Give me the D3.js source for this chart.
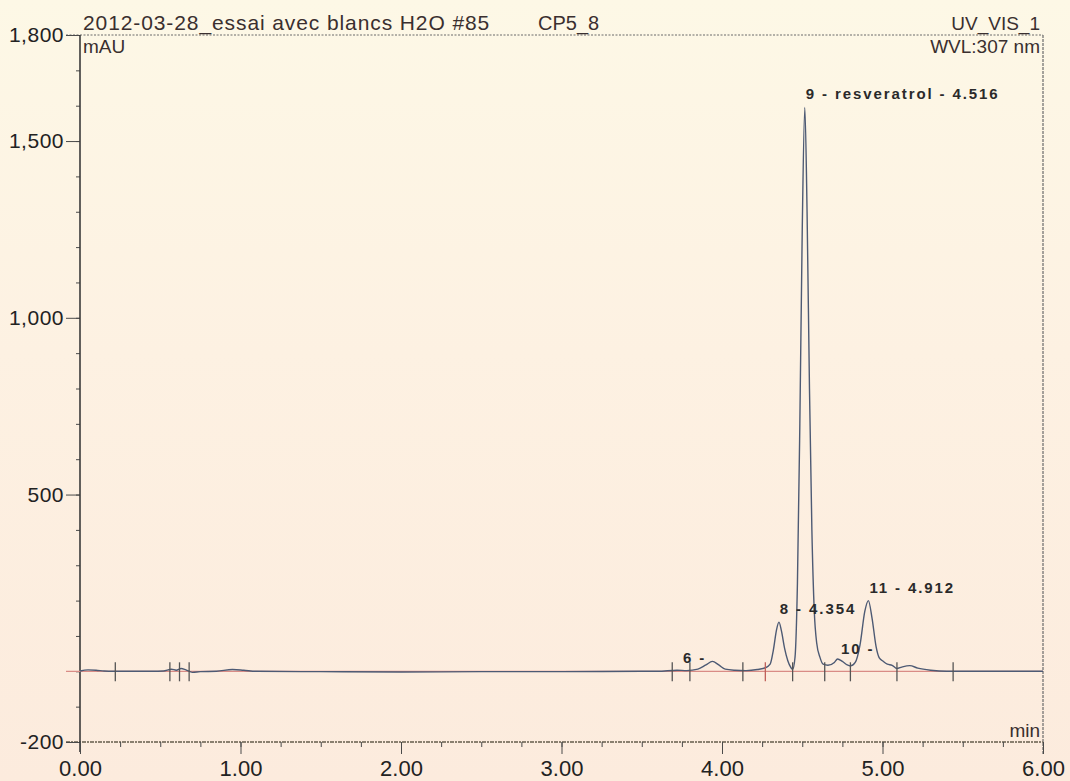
<!DOCTYPE html>
<html>
<head>
<meta charset="utf-8">
<script src="https://cdn.jsdelivr.net/npm/d3@7"></script>
<style>
    body { margin: 0; background: #fdf3e4; }
    svg { display: block; }
</style>
</head>
<body>
<div id="chart"></div>
<script>
// Retention time (min) and absorbance (mAU)
const traceTimes = [0.00, 0.05, 0.10, 0.15, 0.20, 0.30, 0.45, 0.52, 0.57, 0.60, 0.63, 0.66, 0.70, 0.75, 0.85, 0.95, 1.02, 1.10, 1.50, 2.00, 2.50, 3.00, 3.50,
    3.60, 3.72, 3.78, 3.85, 3.90, 3.94, 3.98, 4.02, 4.08, 4.15, 4.22, 4.27, 4.30, 4.32, 4.34, 4.355, 4.37, 4.39, 4.41, 4.43, 4.44,
    4.455, 4.47, 4.485, 4.50, 4.516, 4.53, 4.545, 4.56, 4.575, 4.59, 4.61, 4.63, 4.66, 4.70, 4.72, 4.75, 4.78, 4.80, 4.83, 4.86,
    4.89, 4.912, 4.935, 4.96, 4.98, 5.00, 5.03, 5.06, 5.09, 5.12, 5.17, 5.22, 5.30, 5.40, 5.50, 6.00];
const traceValues = [1, 4, 3, 1, 0, 0, 0, 1, 6, 3, 8, 4, -3, -1, 0, 5, 3, 0, -1, -2, -1, -1, 0,
    0, 3, 2, 6, 18, 28, 18, 6, 3, 2, 5, 10, 20, 60, 118, 139, 115, 65, 30, 10, 5,
    40, 250, 700, 1250, 1595, 1300, 800, 400, 170, 80, 40, 20, 17, 25, 35, 28, 18, 15, 25, 75,
    170, 200, 150, 70, 38, 30, 20, 17, 8, 12, 16, 9, 3, 0, 0, 0];

// Peak annotations
const peakNames = ["6 -", "8 - 4.354", "9 - resveratrol - 4.516", "10 -", "11 - 4.912"];
const peakTimes = [3.75, 4.354, 4.516, 4.735, 4.912];
const peakHeights = [0, 139, 1595, 25, 200];

// Integration delimiters (min)
const delimiterTimes = [0.22, 0.56, 0.62, 0.68, 3.69, 3.80, 4.13, 4.27, 4.44, 4.64, 4.80, 5.09, 5.44];

// Axis ticks
const yTickValues = [1800, 1500, 1000, 500, -200];
const xTickValues = [0, 1, 2, 3, 4, 5, 6];

const width = 1070, height = 781;
const font = "'Liberation Sans', Arial, sans-serif";

const svg = d3.select("#chart").append("svg")
    .attr("width", width)
    .attr("height", height)
    .attr("font-family", font);

// paper background, slightly yellow at top and peach below
const defs = svg.append("defs");
const grad = defs.append("linearGradient").attr("id", "paper").attr("x1", 0).attr("y1", 0).attr("x2", 0).attr("y2", 1);
grad.append("stop").attr("offset", "0%").attr("stop-color", "#fdf8e6");
grad.append("stop").attr("offset", "45%").attr("stop-color", "#fdf1e2");
grad.append("stop").attr("offset", "100%").attr("stop-color", "#fcebdd");
svg.append("rect").attr("width", width).attr("height", height).attr("fill", "url(#paper)");

const x = d3.scaleLinear().domain([0, 6]).range([80, 1043]);
const y = d3.scaleLinear().domain([-200, 1800]).range([742, 35]);

const axisColor = "#4a4a4a";
const yFormat = d => d3.format(",")(d).replace("\u2212", "-");

// top dotted frame line and right border
svg.append("line")
    .attr("x1", 66).attr("x2", x(6))
    .attr("y1", y(1800)).attr("y2", y(1800))
    .attr("stroke", "#6a6a6a").attr("stroke-width", 1)
    .attr("stroke-dasharray", "2,1.5");
svg.append("line")
    .attr("x1", x(6)).attr("x2", x(6))
    .attr("y1", y(1800)).attr("y2", y(-200) + 13)
    .attr("stroke", "#6a6a6a").attr("stroke-width", 1.2)
    .attr("stroke-dasharray", "3,1");

// bottom line at -200
svg.append("line")
    .attr("x1", 66).attr("x2", x(6))
    .attr("y1", y(-200)).attr("y2", y(-200))
    .attr("stroke", "#8a8070").attr("stroke-width", 2.2)
    .attr("stroke-dasharray", "4,1,2,1");

// Y axis: minor then major ticks
svg.append("g")
    .attr("transform", `translate(${x(0)},0)`)
    .call(d3.axisLeft(y).tickValues(d3.range(-200, 1801, 100)).tickSize(4).tickFormat(""))
    .call(g => g.select(".domain").remove())
    .selectAll("line").attr("stroke", axisColor);

const yAxis = svg.append("g")
    .attr("transform", `translate(${x(0)},0)`)
    .call(d3.axisLeft(y).tickValues(yTickValues).tickSize(14).tickPadding(2).tickFormat(yFormat));
yAxis.select(".domain").remove();
yAxis.selectAll("line").attr("stroke", axisColor);
yAxis.selectAll("text").attr("font-size", 21).attr("letter-spacing", 0.5).attr("font-family", font).attr("fill", "#222");

svg.append("line")
    .attr("x1", x(0)).attr("x2", x(0))
    .attr("y1", y(1800)).attr("y2", y(-200) + 10)
    .attr("stroke", "#3a3a3a").attr("stroke-width", 1.6);

// X axis
svg.append("g")
    .attr("transform", `translate(0,${y(-200)})`)
    .call(d3.axisBottom(x).tickValues(d3.range(0, 6.01, 0.25)).tickSize(5).tickFormat(""))
    .call(g => g.select(".domain").remove())
    .selectAll("line").attr("stroke", axisColor);

const xAxis = svg.append("g")
    .attr("transform", `translate(0,${y(-200)})`)
    .call(d3.axisBottom(x).tickValues(xTickValues).tickSize(12).tickPadding(6).tickFormat(d3.format(".2f")));
xAxis.select(".domain").remove();
xAxis.selectAll("line").attr("stroke", axisColor);
xAxis.selectAll("text").attr("font-size", 22).attr("font-family", font).attr("fill", "#222");

// zero line of the blank run (red)
svg.append("line")
    .attr("x1", 66).attr("x2", x(6))
    .attr("y1", y(0)).attr("y2", y(0))
    .attr("stroke", "#d98c86").attr("stroke-width", 1.3);

// chromatogram trace
const trace = traceTimes.map((t, i) => [t, traceValues[i]]);
const line = d3.line()
    .x(d => x(d[0]))
    .y(d => y(d[1]))
    .curve(d3.curveMonotoneX);

svg.append("path")
    .datum(trace)
    .attr("d", line)
    .attr("fill", "none")
    .attr("stroke", "#4d5a74")
    .attr("stroke-width", 1.4);

// integration delimiters
svg.selectAll(".delim")
    .data(delimiterTimes)
    .join("line")
    .attr("class", "delim")
    .attr("x1", d => x(d)).attr("x2", d => x(d))
    .attr("y1", y(0) - 9).attr("y2", y(0) + 10)
    .attr("stroke", d => d === 4.27 ? "#c0605a" : "#555")
    .attr("stroke-width", 1.3);

// peak labels
svg.selectAll(".peak-label")
    .data(peakNames)
    .join("text")
    .attr("class", "peak-label")
    .attr("x", (d, i) => x(peakTimes[i]) + 1)
    .attr("y", (d, i) => y(peakHeights[i]) - 8)
    .attr("font-size", 15)
    .attr("font-weight", "bold")
    .attr("letter-spacing", 1.9)
    .attr("fill", "#2a2a2a")
    .text(d => d);

// header texts
svg.append("text")
    .attr("x", 83).attr("y", 30)
    .attr("font-size", 21).attr("letter-spacing", 0.9).attr("fill", "#3a2f2f")
    .text("2012-03-28_essai avec blancs H2O #85");
svg.append("text")
    .attr("x", 538).attr("y", 30)
    .attr("font-size", 20).attr("fill", "#3a2f2f")
    .text("CP5_8");
svg.append("text")
    .attr("x", 83).attr("y", 53)
    .attr("font-size", 19).attr("fill", "#3a2f2f")
    .text("mAU");
svg.append("text")
    .attr("x", 1040).attr("y", 30)
    .attr("text-anchor", "end")
    .attr("font-size", 19).attr("fill", "#3a2f2f")
    .text("UV_VIS_1");
svg.append("text")
    .attr("x", 1040).attr("y", 53)
    .attr("text-anchor", "end")
    .attr("font-size", 19).attr("fill", "#3a2f2f")
    .text("WVL:307 nm");
svg.append("text")
    .attr("x", 1040).attr("y", 737)
    .attr("text-anchor", "end")
    .attr("font-size", 19).attr("fill", "#3a2f2f")
    .text("min");
</script>
</body>
</html>
